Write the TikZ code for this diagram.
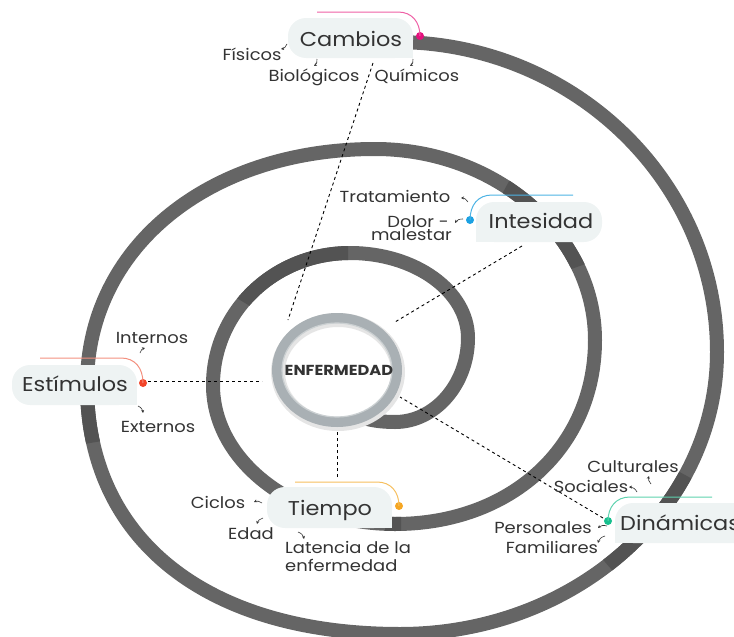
\documentclass[tikz,border=0pt]{standalone}
\usepackage{fontspec}
\setmainfont{Poppins}
\newfontfamily\lblfont{Poppins}[FakeStretch=1.12]
\usetikzlibrary{arrows.meta}

\definecolor{coilgray}{HTML}{656565}
\definecolor{coildark}{HTML}{535353}
\definecolor{boxfill}{HTML}{EEF3F3}
\definecolor{txt}{HTML}{333333}
\definecolor{ringgray}{HTML}{A9B0B4}
\definecolor{pinkdot}{HTML}{E5117E}
\definecolor{pinkline}{HTML}{EE5FA5}
\definecolor{bluedot}{HTML}{1BA1E2}
\definecolor{blueline}{HTML}{4DB3E4}
\definecolor{reddot}{HTML}{F2452A}
\definecolor{redline}{HTML}{F3907F}
\definecolor{orangedot}{HTML}{F5A623}
\definecolor{orangeline}{HTML}{F6BF5E}
\definecolor{tealdot}{HTML}{17BF8E}
\definecolor{tealline}{HTML}{5ED2AE}

\begin{document}
\begin{tikzpicture}[x=1pt,y=-1pt,
  coil/.style={line width=14pt, line cap=butt, line join=round},
  boxbg/.style={fill=boxfill},
  mainlbl/.style={font={\lblfont\fontsize{20}{24}\selectfont}, text=txt, inner sep=0pt, anchor=base},
  sublbl/.style={font={\lblfont\fontsize{16}{19}\selectfont}, text=txt, inner sep=0pt, anchor=base},
  dashlink/.style={black, line width=0.9pt, dash pattern=on 3pt off 3pt},
  tick/.style={txt, line width=0.6pt, -{Stealth[length=3pt,width=3pt]}},
  dotmark/.style={circle, inner sep=0pt, minimum size=8pt}]

\useasboundingbox (0,0) rectangle (734,637);

% ---- the coil: quarter arcs joined at their extreme points ----
\path[save path=\spiralpath]
  (395,42)  .. controls (573,42)  and (717,181) .. (717,352)
            .. controls (717,508) and (575,634) .. (400,634)
            .. controls (206,634) and (87,539)  .. (87,385)
            .. controls (87,248)  and (208,149) .. (375,149)
            .. controls (496,149) and (595,235) .. (595,340)
            .. controls (595,447) and (511,524) .. (395,524)
            .. controls (295,524) and (213,462) .. (213,385)
            .. controls (213,312) and (274,253) .. (350,253)
            .. controls (415,253) and (468,291) .. (468,338)
            .. controls (468,384) and (435,422) .. (395,422)
            .. controls (380,422) and (368,420) .. (358,416);
\draw[coil, draw=coilgray, use path=\spiralpath];

% darker stretches of the coil
\begin{scope}
  \clip (518,165) -- (496,205) -- (557,274) -- (597,260) -- cycle;
  \draw[coil, draw=coildark, use path=\spiralpath];
\end{scope}
\begin{scope}
  \clip (60,395) -- (120,395) -- (120,438) -- (60,448) -- cycle;
  \draw[coil, draw=coildark, use path=\spiralpath];
\end{scope}
\begin{scope}
  \clip (656,459) -- (696,481) -- (680,540) -- (625,585) -- (585,539) -- cycle;
  \draw[coil, draw=coildark, use path=\spiralpath];
\end{scope}
\begin{scope}
  \clip (385,505) rectangle (401,540);
  \draw[coil, draw=coildark, use path=\spiralpath];
\end{scope}
\begin{scope}
  \clip (225,291) -- (255,309) -- (348,280) -- (348,240) -- (225,240) -- cycle;
  \draw[coil, draw=coildark, use path=\spiralpath];
\end{scope}

% ---- central ring ----
\fill[white] (337,370) ellipse [x radius=60, y radius=52];
\draw[line width=14pt, black!10] (338,372) ellipse [x radius=60, y radius=52];
\draw[line width=10pt, ringgray] (337,370) ellipse [x radius=60, y radius=52];
\draw[line width=1.2pt, ringgray!60] (337,370) ellipse [x radius=55, y radius=47];
\node[font={\lblfont\bfseries\fontsize{14.5}{17}\selectfont}, text=txt, inner sep=0pt, anchor=base]
  (enf) at (339,375) {ENFERMEDAD};

% ---- boxes ----
\fill[boxbg, rounded corners=18pt] (288,18) rectangle (413,58);
\fill[boxbg] (395,40) rectangle (413,58);
\fill[boxbg, rounded corners=18pt] (476,202) rectangle (602,242);
\fill[boxbg] (476,222) rectangle (494,242);
\fill[boxbg, rounded corners=18pt] (12,365) rectangle (137,405);
\fill[boxbg] (119,387) rectangle (137,405);
\fill[boxbg, rounded corners=18pt] (267,487) rectangle (392,528);
\fill[boxbg] (374,510) rectangle (392,528);
\fill[boxbg, rounded corners=18pt] (615,503) rectangle (775,543);
\fill[boxbg] (615,525) rectangle (633,543);

\node[mainlbl] (cambios) at (351,46) {Cambios};
\node[mainlbl] (intesidad) at (541,228) {Intesidad};
\node[mainlbl] (estimulos) at (75,391) {Estímulos};
\node[mainlbl] (tiempo) at (330,515) {Tiempo};
\node[mainlbl, anchor=base west] (dinamicas) at (620,530) {Dinámicas};

% ---- dots and coloured top lines ----
\node[dotmark, fill=pinkdot] (pdot) at (420,36) {};
\node[dotmark, fill=bluedot] (bdot) at (470,220) {};
\node[dotmark, fill=reddot] (rdot) at (143,383) {};
\node[dotmark, fill=orangedot] (odot) at (399,506) {};
\node[dotmark, fill=tealdot] (tdot) at (608,521) {};

\coordinate (pl) at (317,12);
\coordinate (bl) at (573,195);
\coordinate (rl) at (40,358);
\coordinate (ol) at (295,482);
\coordinate (tl) at (712,497);
\draw[pinkline, line width=1pt] (pl) -- (398,12) .. controls (412,12) and (420,22) .. (pdot.center);
\draw[blueline, line width=1pt] (bl) -- (492,195) .. controls (478,195) and (470,205) .. (bdot.center);
\draw[redline, line width=1pt] (rl) -- (121,358) .. controls (135,358) and (143,368) .. (rdot.center);
\draw[orangeline, line width=1pt] (ol) -- (377,482) .. controls (391,482) and (399,492) .. (odot.center);
\draw[tealline, line width=1pt] (tl) -- (630,497) .. controls (616,497) and (608,507) .. (tdot.center);

% ---- dashed links towards the ring ----
\coordinate (e1) at (288,320);
\coordinate (e2) at (395,322);
\coordinate (e3) at (262,381);
\coordinate (e4) at (337,432);
\coordinate (e5) at (400,397);
\coordinate (s1) at (373,63);
\coordinate (s2) at (522,246);
\coordinate (s3) at (148,381);
\coordinate (s4) at (337,477);
\coordinate (s5) at (603,518);
\draw[dashlink] (s1) -- (e1);
\draw[dashlink] (s2) -- (e2);
\draw[dashlink] (s3) -- (e3);
\draw[dashlink] (s4) -- (e4);
\draw[dashlink] (s5) -- (e5);

% ---- sub-labels ----
\node[sublbl] (fisicos) at (252,60) {Físicos};
\node[sublbl] (biologicos) at (314,81) {Biológicos};
\node[sublbl] (quimicos) at (417,81) {Químicos};
\node[sublbl] (tratamiento) at (395,202) {Tratamiento};
\node[sublbl, anchor=base east] (dolor) at (449,227) {Dolor -};
\node[sublbl, anchor=base east] (malestar) at (452,240) {malestar};
\node[sublbl] (internos) at (152,343) {Internos};
\node[sublbl] (externos) at (158,432) {Externos};
\node[sublbl] (ciclos) at (218,508) {Ciclos};
\node[sublbl] (edad) at (251,539) {Edad};
\node[sublbl, anchor=base west] (latencia) at (285,553) {Latencia de la};
\node[sublbl, anchor=base west] (enfermedad) at (285,571) {enfermedad};
\node[sublbl] (culturales) at (633,472) {Culturales};
\node[sublbl] (sociales) at (591,492) {Sociales};
\node[sublbl] (personales) at (543,533) {Personales};
\node[sublbl] (familiares) at (552,553) {Familiares};

% ---- small pointer arrows ----
\draw[tick] (287,44) to[bend left=30] (281,49);
\draw[tick] (317,59) to[bend left=30] (314,66);
\draw[tick] (413,59) to[bend left=30] (410,66);
\draw[tick] (468,202) to[bend right=30] (461,198);
\draw[tick] (463,219) to[bend right=30] (455,223);
\draw[tick] (140,353) to[bend left=30] (145,348);
\draw[tick] (138,406) to[bend left=30] (143,413);
\draw[tick] (262,503) to[bend right=30] (254,502);
\draw[tick] (263,518) to[bend right=30] (257,524);
\draw[tick] (298,532) to[bend left=30] (304,539);
\draw[tick] (651,484) to[bend left=30] (649,476);
\draw[tick] (637,492) to[bend right=30] (629,487);
\draw[tick] (607,526) to[bend right=30] (598,528);
\draw[tick] (605,536) to[bend right=30] (598,543);
\end{tikzpicture}
\end{document}
